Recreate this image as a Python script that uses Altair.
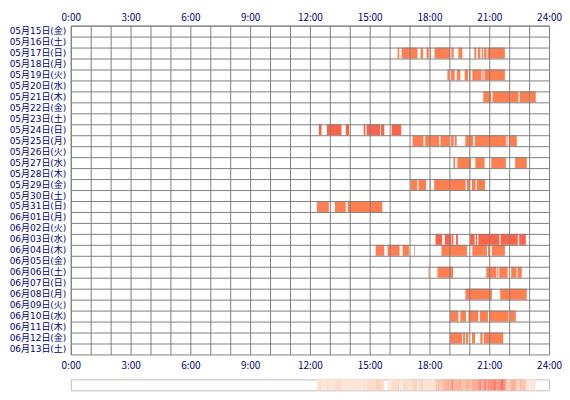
import altair as alt
import pandas as pd

FONT = "Noto Sans CJK JP"
YFONT = "DejaVu Sans, Noto Sans CJK JP"

dates = [
    "05月15日(金)", "05月16日(土)", "05月17日(日)", "05月18日(月)", "05月19日(火)",
    "05月20日(水)", "05月21日(木)", "05月22日(金)", "05月23日(土)", "05月24日(日)",
    "05月25日(月)", "05月26日(火)", "05月27日(水)", "05月28日(木)", "05月29日(金)",
    "05月30日(土)", "05月31日(日)", "06月01日(月)", "06月02日(火)", "06月03日(水)",
    "06月04日(木)", "06月05日(金)", "06月06日(土)", "06月07日(日)", "06月08日(月)",
    "06月09日(火)", "06月10日(水)", "06月11日(木)", "06月12日(金)", "06月13日(土)",
]

# active periods per day (HH:MM-HH:MM)
sessions = {
    "05月17日(日)": "16:24-16:29 16:36-17:24 17:33-17:41 17:51-17:58 18:02-18:05 18:15-19:02 "
                    "19:06-19:13 19:27-19:39 20:15-20:21 20:26-20:33 20:37-20:41 20:44-20:52 20:55-21:47",
    "05月19日(火)": "18:54-19:00 19:05-19:16 19:22-19:33 19:46-19:56 19:59-20:04 20:09-20:36 "
                    "20:39-20:43 20:46-21:47",
    "05月21日(木)": "20:42-21:06 21:10-22:28 22:32-23:00 23:02-23:20",
    "05月24日(日)": "12:27-12:35 12:51-13:35 13:48-13:58 14:42-14:47 14:51-15:31 15:34-15:44 16:06-16:35",
    "05月25日(月)": "17:09-17:42 17:47-18:29 18:33-19:00 19:05-19:13 19:16-19:22 19:48-20:11 "
                    "20:16-21:50 21:52-21:55 21:59-22:23",
    "05月27日(水)": "19:12-19:17 19:24-20:05 20:18-20:46 21:06-21:50 22:18-22:53",
    "05月29日(金)": "17:03-17:23 17:27-17:50 18:01-18:04 18:14-19:49 19:53-20:02 20:08-20:19 20:23-20:47",
    "05月31日(日)": "12:21-12:57 13:15-13:48 13:54-15:38",
    "06月03日(水)": "18:18-18:38 18:46-19:06 19:08-19:12 19:20-19:26 20:02-20:16 20:19-20:23 "
                    "20:27-21:30 21:34-22:26 22:30-22:50",
    "06月04日(木)": "15:18-15:44 15:54-16:30 16:39-16:58 17:14-17:16 18:36-19:53 20:09-20:53 "
                    "20:56-21:01 21:08-21:47",
    "06月06日(土)": "17:57-17:59 18:24-19:11 20:51-21:21 21:24-21:27 21:30-21:55 22:06-22:22 22:25-22:38",
    "06月08日(月)": "19:48-21:08 21:33-22:53",
    "06月10日(水)": "19:02-19:27 19:33-19:50 19:57-20:27 20:32-20:56 21:00-21:58 22:02-22:20",
    "06月12日(金)": "19:02-19:38 19:41-19:47 19:50-19:57 20:08-20:17 20:33-20:40 20:44-21:42",
}

heavy_days = ["05月24日(日)", "06月03日(水)"]

hour_ticks = list(range(0, 25))
bar_colors = ["#ff7f50", "#ff6347"]
density_colors = ["#ffe6d8", "#ff7066"]


def to_min(t):
    h, m = t.split(":")
    return int(h) * 60 + int(m)


rows = []
counts = [0] * (24 * 60)
for day, text in sessions.items():
    for seg in text.split():
        a, b = seg.split("-")
        s, e = to_min(a), to_min(b)
        rows.append({"day": day, "start": s / 60, "end": e / 60,
                     "level": "heavy" if day in heavy_days else "normal"})
        for m in range(s, e):
            counts[m] += 1
df = pd.DataFrame(rows)

# run-length encode minute counts for the density strip
grad_rows = []
m = 0
while m < len(counts):
    c = counts[m]
    n = m
    while n < len(counts) and counts[n] == c:
        n += 1
    if c > 0:
        grad_rows.append({"start": m / 60, "end": n / 60, "count": c})
    m = n
gdf = pd.DataFrame(grad_rows)
maxc = int(gdf["count"].max())

x_scale = alt.Scale(domain=[0, 24], nice=False, zero=False)
y_scale = alt.Scale(domain=dates, paddingInner=0, paddingOuter=0)
label_expr = "datum.value % 3 == 0 ? format(datum.value, 'd') + ':00' : ''"

common_axis = dict(values=hour_ticks, labelExpr=label_expr, ticks=False, tickSize=0,
                   domain=False, labelFont=FONT, labelFontSize=10, labelColor="#000080",
                   labelFlush=False, labelOverlap=False, title=None, labelBaseline="middle")

top_axis = alt.Axis(orient="top", grid=True, gridColor="#808080", gridOpacity=1, gridWidth=1,
                    labelPadding=8.5, minExtent=16, maxExtent=16, zindex=1, **common_axis)
bottom_axis = alt.Axis(orient="bottom", grid=False, labelPadding=11, minExtent=18, maxExtent=18,
                       **common_axis)
y_axis = alt.Axis(orient="left", grid=True, gridColor="#808080", gridOpacity=1, gridWidth=1,
                  bandPosition=0, ticks=False, tickSize=0, domain=False, labelPadding=5,
                  labelFont=YFONT, labelFontSize=9, labelColor="#000080",
                  minExtent=62, maxExtent=62, zindex=1, title=None, labelOverlap=False)

bars = alt.Chart(df).mark_rect().encode(
    x=alt.X("start:Q", scale=x_scale, axis=top_axis),
    x2="end:Q",
    y=alt.Y("day:N", scale=y_scale, axis=y_axis, sort=dates),
    color=alt.Color("level:N", scale=alt.Scale(domain=["normal", "heavy"], range=bar_colors),
                    legend=None),
)

bottom = alt.Chart(df).mark_rect(opacity=0).encode(
    x=alt.X("start:Q", scale=x_scale, axis=bottom_axis),
    x2="end:Q",
)

main = alt.layer(bars, bottom).resolve_axis(x="independent").properties(
    width=480, height=330, view=alt.ViewBackground(stroke="#808080", strokeWidth=1)
)

strip = alt.Chart(gdf).mark_rect().encode(
    x=alt.X("start:Q", scale=x_scale, axis=None),
    x2="end:Q",
    color=alt.Color("count:Q", scale=alt.Scale(domain=[1, maxc], range=density_colors),
                    legend=None),
).properties(width=480, height=11, view=alt.ViewBackground(stroke="#c0c0c0", strokeWidth=1))

chart = alt.vconcat(main, strip, spacing=5).properties(padding=0, background="white")

chart.save("out.html", embed_options={"renderer": "svg", "actions": False})
